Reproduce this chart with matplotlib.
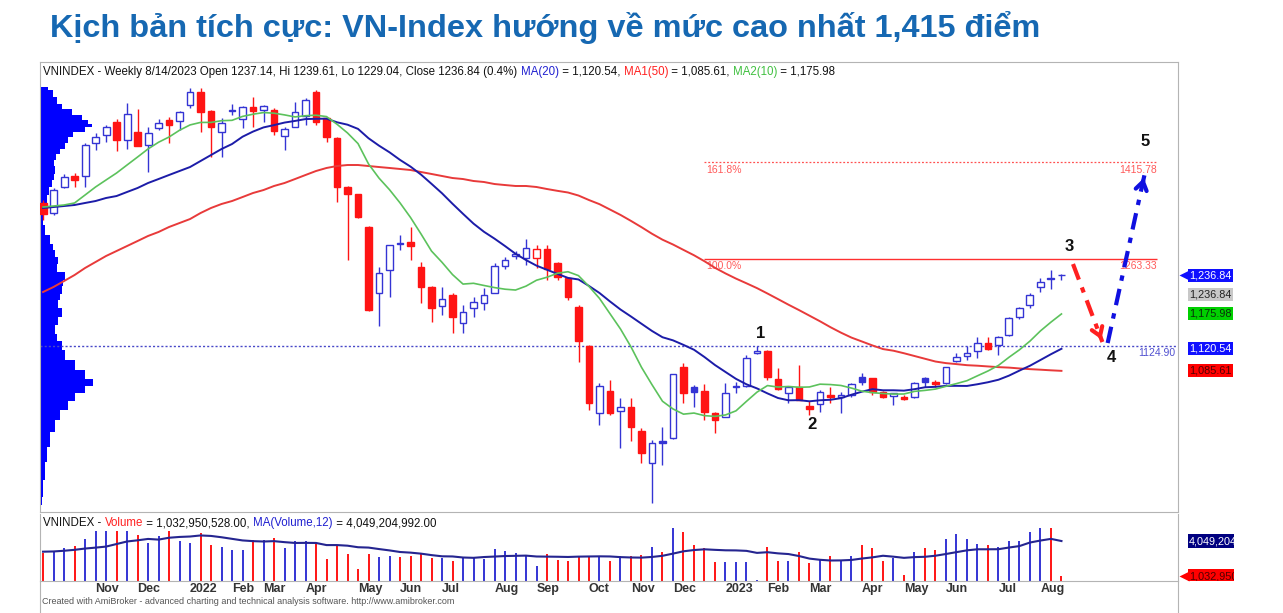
import numpy as np
import pandas as pd
import matplotlib
matplotlib.use("Agg")
import matplotlib.pyplot as plt
from matplotlib.lines import Line2D
from matplotlib.transforms import blended_transform_factory

plt.rcParams["font.family"] = ["Liberation Sans", "DejaVu Sans"]

# weekly bars dated by Friday; Tet week 2022 had no trading
dates = pd.date_range("2021-10-01", "2023-08-18", freq="W-FRI")
dates = dates[dates != pd.Timestamp("2022-02-04")]

opens = [1351, 1335, 1376, 1394, 1394, 1446, 1459, 1479, 1451, 1463,
         1443, 1470, 1482, 1481, 1506, 1527, 1497, 1463, 1496, 1484,
         1503, 1498, 1498, 1457, 1471, 1489, 1527, 1486, 1454, 1377,
         1365, 1313, 1209, 1245, 1288, 1289.5, 1250, 1218, 1188, 1205.6,
         1161.3, 1185, 1192.9, 1208.8, 1251.5, 1268, 1264, 1264, 1278.4, 1256.2,
         1232.5, 1186.6, 1124.9, 1018.9, 1053.7, 1022, 1028.4, 990.4, 939.8, 974,
         979.3, 1091.7, 1060, 1053.7, 1018.9, 1012.6, 1060, 1061.6, 1113.8, 1117,
         1072.7, 1050.5, 1060, 1030, 1033.1, 1047.4, 1044.2, 1047.4, 1075.8, 1074.3,
         1052.1, 1045.8, 1044.2, 1044.2, 1074.3, 1067.9, 1066.4, 1101.2, 1109.1, 1117,
         1129.6, 1126.5, 1142.3, 1170.8, 1189.8, 1218.3, 1232, 1237.14]
highs = [1356, 1375, 1397, 1398, 1446, 1462, 1475, 1484, 1509, 1500,
         1471, 1484, 1487, 1496, 1533, 1533, 1498, 1486, 1508, 1505,
         1519, 1506, 1501, 1471, 1511, 1517, 1530, 1487, 1455, 1378,
         1366, 1315, 1250, 1285, 1300.5, 1313, 1257.8, 1220, 1218, 1208.8,
         1189.8, 1202.4, 1216.7, 1256, 1265.7, 1276, 1294.2, 1284.7, 1284.7, 1258,
         1234, 1190, 1126, 1066.4, 1071.1, 1042.6, 1042.6, 995, 976.2, 996.7,
         1081, 1098, 1063.2, 1064.8, 1020.5, 1066.4, 1067.9, 1110.7, 1124.9, 1118,
         1090.1, 1061.6, 1094.8, 1037.9, 1055, 1060, 1052, 1066.4, 1082.2, 1075,
         1053, 1051, 1047, 1067.9, 1075.8, 1071, 1092, 1113.8, 1124.9, 1139.1,
         1139.1, 1140, 1170, 1187, 1208.8, 1232.5, 1245.2, 1239.61]
lows = [1324, 1332, 1375, 1376, 1376, 1435, 1448, 1433, 1437, 1441,
        1400, 1467, 1446, 1467, 1501, 1463, 1424, 1424, 1490, 1470,
        1471, 1479, 1459, 1435, 1471, 1475, 1475, 1447, 1353, 1261,
        1327, 1180, 1156.5, 1202, 1276.8, 1261, 1192.9, 1162.9, 1174, 1145.5,
        1145.5, 1171, 1181.9, 1208, 1246.7, 1262, 1253, 1248, 1229.3, 1230,
        1197.7, 1099.6, 1023.6, 999.9, 1015.7, 963.5, 974.6, 939.8, 876.5, 936.6,
        978, 1034.7, 1028.4, 1007.8, 987.2, 1012, 1050.5, 1060, 1112, 1071.1,
        1055, 1034.7, 1039, 1015.7, 1020, 1034.7, 1018.9, 1044, 1063.2, 1047,
        1042, 1031.5, 1040, 1043, 1060, 1060, 1065, 1099.6, 1102.7, 1105.9,
        1119, 1110, 1141, 1167, 1185, 1210.3, 1215.1, 1229.04]
closes = [1334, 1372, 1392, 1388, 1443, 1455, 1471, 1451, 1492, 1441,
          1462, 1478, 1475, 1495, 1527, 1495, 1471, 1478, 1498, 1503,
          1497, 1504, 1465, 1468, 1495, 1514, 1479, 1456, 1377, 1365,
          1329, 1182, 1240.4, 1284.7, 1286.5, 1283.1, 1218.3, 1185, 1199.3, 1170.8,
          1178.7, 1194.5, 1205.6, 1251.5, 1260.9, 1270, 1280, 1278.4, 1246.7, 1234.1,
          1202.4, 1132.8, 1034.7, 1061.6, 1018.9, 1028.4, 996.7, 955.6, 971.4, 972,
          1080.6, 1050.5, 1052.1, 1020.5, 1007.8, 1050.5, 1062, 1105.9, 1117, 1075.8,
          1056.9, 1060, 1039.5, 1025.2, 1052.1, 1044.2, 1047.4, 1064.8, 1067.9, 1052.1,
          1044.2, 1050.5, 1041, 1066.4, 1067.9, 1064.8, 1091.7, 1107.5, 1113.8, 1129.6,
          1120.2, 1139.1, 1169.2, 1185, 1205.6, 1226.2, 1230.5, 1236.84]
# volume in billions of shares
volumes = [2.99, 3.18, 3.46, 3.62, 4.23, 4.91, 4.91, 4.91, 4.91, 4.55,
           3.90, 4.50, 4.91, 4.01, 3.90, 4.72, 3.73, 3.54, 3.27, 3.27,
           4.17, 4.17, 4.28, 3.46, 4.09, 4.09, 3.81, 2.52, 3.73, 2.91,
           1.67, 2.91, 2.64, 2.77, 2.64, 2.80, 3.04, 2.58, 2.58, 2.36,
           2.64, 2.58, 2.49, 3.40, 3.18, 2.99, 2.85, 1.89, 2.91, 2.44,
           2.36, 2.72, 2.80, 2.72, 2.36, 2.72, 2.80, 2.85, 3.54, 3.08,
           5.18, 4.83, 3.67, 3.46, 2.25, 2.25, 2.25, 2.25, 0.71, 3.54,
           2.36, 2.36, 3.13, 2.17, 2.44, 2.72, 2.36, 2.72, 3.73, 3.46,
           2.36, 2.58, 1.15, 3.13, 3.46, 3.27, 4.23, 4.64, 4.23, 3.81,
           3.73, 3.54, 4.09, 4.09, 4.83, 5.18, 5.18, 1.033]

# moving averages before enough bars are on screen
ma10_head = [1344.8, 1346.4, 1348, 1351.2, 1363.8, 1376.5, 1387.6, 1398.6, 1411.3]
ma20_head = [1343.3, 1344.8, 1346.4, 1348, 1351.2, 1354.3, 1359.1, 1362.2, 1368.6, 1374.9,
             1382.8, 1389.1, 1395.5, 1401.8, 1408.1, 1417.6, 1427.1, 1436.6, 1444.5]
ma50_head = [1210.3, 1218.3, 1227.7, 1237.2, 1248.3, 1257.8, 1267.3, 1275.2, 1283.1, 1291,
             1299, 1305.3, 1313.2, 1319.5, 1325.8, 1335.3, 1343.3, 1349.6, 1354.3, 1360.6,
             1367, 1371.7, 1378.1, 1382.8, 1389.1, 1395.5, 1401.8, 1406.6, 1409.7, 1411.3,
             1411.3, 1409.7, 1408.1, 1406.6, 1405, 1403.4, 1400.2, 1397.1, 1393.9, 1390.7,
             1389.1, 1386, 1384.4, 1381.2, 1379.6, 1378.1, 1378.1, 1376.5, 1373.3]
volma_head = [3.13, 3.15, 3.21, 3.29, 3.40, 3.48, 3.57, 3.79, 4.01, 4.11, 4.23]

# volume-at-price profile on the left edge
profile_price = [1534.7, 1525.2, 1514.1, 1503.1, 1495.2, 1487.2, 1479.3, 1474.6, 1466.7, 1458.8,
                 1450.9, 1439.8, 1431.9, 1424, 1414.5, 1403.4, 1392.3, 1382.8, 1371.7, 1355.9,
                 1344.8, 1324.3, 1308.4, 1292.6, 1281.5, 1272.1, 1260.9, 1249.9, 1234.1, 1224.6,
                 1213.5, 1202.4, 1192.9, 1177.1, 1166, 1150.2, 1139.1, 1126.5, 1110.7, 1094.8,
                 1079, 1066.4, 1055.3, 1044.2, 1031.5, 1015.7, 999.9, 976.2, 952.4, 928.7,
                 897.1, 873.3]
profile_vol = [8, 13, 17, 22, 32, 42, 48, 52, 45, 33, 28, 25, 20, 16, 14, 15, 14, 12, 9, 7,
               5, 3, 5, 10, 13, 15, 18, 17, 25, 23, 22, 20, 18, 22, 18, 15, 17, 22, 25, 35,
               45, 53, 45, 35, 28, 20, 15, 10, 7, 5, 3, 2]

month_labels = ["Nov", "Dec", "2022", "Feb", "Mar", "Apr", "May", "Jun", "Jul", "Aug", "Sep",
                "Oct", "Nov", "Dec", "2023", "Feb", "Mar", "Apr", "May", "Jun", "Jul", "Aug"]

fib_levels = [1263.33, 1415.78]
fib_names = ["100.0%", "161.8%"]
support = 1124.90

# scenario path 3 -> 4 -> 5
wave_names = ["1", "2", "3", "4", "5"]
wave_x = [68.3, 73.2, 97.7, 101.8, 105.0]
wave_y = [1145, 1000, 1283, 1106, 1448]
drop_path = ([98.1, 100.9], [1254.6, 1131.2])
rise_path = ([101.4, 104.9], [1129.6, 1395])

BLUE = "#3434d4"
RED = "#ff1414"
W, H = 1283, 613


def box(x0, y0, x1, y1):
    return [x0 / W, 1 - y1 / H, (x1 - x0) / W, (y1 - y0) / H]


def chain(axis, x, y, parts, size):
    t = axis.text(x, y, parts[0][0], color=parts[0][1], fontsize=size,
                  transform=axis.transAxes, va="center", ha="left")
    for s, col in parts[1:]:
        t = axis.annotate(s, xy=(1, 0), xycoords=t, va="bottom", ha="left",
                          color=col, fontsize=size)
    return t


fig = plt.figure(figsize=(W / 100, H / 100), dpi=100)
ax = fig.add_axes(box(40, 62, 1178, 512))
axv = fig.add_axes(box(40, 514, 1178, 581))
axl = fig.add_axes(box(1178, 62, 1234, 512))
axvl = fig.add_axes(box(1178, 514, 1234, 581))

x = np.arange(len(closes))
o, hi, lo, c = (np.array(a, dtype=float) for a in (opens, highs, lows, closes))
prev = np.r_[o[0], c[:-1]]
colors = np.where(c >= prev, BLUE, RED)
face = np.where(c >= o, "white", colors)

xlim = (-0.29, 108.1)
ylim = (862.2, 1574.3)
vlim = (0.602, 6.38)

# volume profile
ax.fill_betweenx(profile_price, 0, np.array(profile_vol) / 1138,
                 step="mid", color="#0000ff", lw=0,
                 transform=blended_transform_factory(ax.transAxes, ax.transData), zorder=1)

# candles
ax.vlines(x, lo, hi, colors=colors, lw=1, zorder=3)
ax.bar(x, np.maximum(np.abs(c - o), 0.9), bottom=np.minimum(o, c), width=0.66,
       color=face, edgecolor=colors, lw=1, zorder=4)

cs = pd.Series(c)
ma10 = cs.rolling(10).mean().to_numpy()
ma10[:9] = ma10_head
ma20 = cs.rolling(20).mean().to_numpy()
ma20[:19] = ma20_head
ma50 = cs.rolling(50).mean().to_numpy()
ma50[:49] = ma50_head
ax.plot(x, ma50, color="#e83a3a", lw=1.4, zorder=5)
ax.plot(x, ma20, color="#1c1ca8", lw=1.4, zorder=5)
ax.plot(x, ma10, color="#5cc25c", lw=1.2, zorder=5)

# fibonacci levels and support
fib_x0, fib_x1 = 63.0, 106.1
ax.hlines(fib_levels[0], fib_x0, fib_x1, color="#ff3030", lw=1, zorder=2)
ax.hlines(fib_levels[1], fib_x0, fib_x1, color="#ff5050", lw=0.9, ls=(0, (1.5, 1.5)), zorder=2)
for lvl, name in zip(fib_levels, fib_names):
    ax.text(fib_x0 + 0.2, lvl - 4, name, color="#ff5a5a", fontsize=7.5, va="top", ha="left")
    ax.text(fib_x1, lvl - 4, f"{lvl:.2f}", color="#ff5a5a", fontsize=7.5, va="top", ha="right")
ax.axhline(support, color="#4848c8", lw=1, ls=(0, (1.5, 1.5)), zorder=2)
ax.text(0.998, support - 3.5, f"{support:.2f}", color="#5050d0", fontsize=7.5, va="top",
        ha="right", transform=blended_transform_factory(ax.transAxes, ax.transData))

# scenario arrows
ax.plot(*drop_path, color="#ff2020", lw=3, ls=(0, (4, 2, 1.3, 2)), zorder=6)
ax.annotate("", xy=(drop_path[0][1], drop_path[1][1]),
            xytext=(drop_path[0][1] - 0.35, drop_path[1][1] + 15),
            arrowprops=dict(arrowstyle="->,head_length=0.6,head_width=0.4", color="#ff2020", lw=3))
ax.plot(*rise_path, color="#1010e0", lw=3, ls=(0, (4, 2, 1.3, 2)), zorder=6)
ax.annotate("", xy=(rise_path[0][1], rise_path[1][1]),
            xytext=(rise_path[0][1] - 0.2, rise_path[1][1] - 15),
            arrowprops=dict(arrowstyle="->,head_length=0.6,head_width=0.4", color="#1010e0", lw=3))
for name, wx, wy in zip(wave_names, wave_x, wave_y):
    ax.text(wx, wy, name, fontsize=12, fontweight="bold", color="#111111", ha="center", va="center")

ax.set_xlim(*xlim)
ax.set_ylim(*ylim)
ax.set_xticks([])
ax.set_yticks([])
for sp in ax.spines.values():
    sp.set_color("#b4b4b4")
    sp.set_linewidth(0.8)

chain(ax, 0.003, 0.978, [
    ("VNINDEX - Weekly 8/14/2023 Open 1237.14, Hi 1239.61, Lo 1229.04, Close 1236.84 (0.4%) ", "#111111"),
    ("MA(20)", "#2020d0"), (" = 1,120.54, ", "#111111"),
    ("MA1(50)", "#ff2020"), (" = 1,085.61, ", "#111111"),
    ("MA2(10)", "#40c040"), (" = 1,175.98", "#111111")], 8.3)

# volume pane
v = pd.Series(volumes)
vcol = np.where(c >= o, BLUE, RED)
axv.vlines(x, vlim[0], v, colors=vcol, lw=1.4)
vma = v.rolling(12).mean().to_numpy()
vma[:11] = volma_head
axv.plot(x, vma, color="#252590", lw=1.5)
axv.set_xlim(*xlim)
axv.set_ylim(*vlim)
axv.set_yticks([])
month_first = pd.Series(dates.month).ne(pd.Series(dates.month).shift()).to_numpy()
month_first[0] = False
axv.set_xticks(x[month_first])
axv.set_xticklabels(month_labels, fontsize=9, fontweight="bold", color="#333333", ha="left")
axv.tick_params(axis="x", length=0, pad=1.5)
axv.spines["top"].set_visible(False)
for sp in ("left", "right", "bottom"):
    axv.spines[sp].set_color("#b4b4b4")
    axv.spines[sp].set_linewidth(0.8)
chain(axv, 0.003, 0.86, [
    ("VNINDEX - ", "#111111"), ("Volume", "#ff2020"),
    (" = 1,032,950,528.00, ", "#111111"), ("MA(Volume,12)", "#2020d0"),
    (" = 4,049,204,992.00", "#111111")], 8.3)

# right-hand value tags
price_tags = [(1236.84, 0, "#1010ff", "white", True), (1236.84, -14, "#c8c8c8", "#222222", False),
              (1175.98, 0, "#00d000", "#0a300a", False), (1120.54, 0, "#1010ff", "white", False),
              (1085.61, 0, "#ff0000", "#500000", False)]
vol_tags = [(4.049, "4,049,204,992", "#000080", "white", False),
            (1.033, "1,032,950,528", "#ff0000", "#500000", True)]
axl.set_ylim(*ylim)
axvl.set_ylim(*vlim)
for a in (axl, axvl):
    a.set_xlim(0, 1)
    a.axis("off")
for val, off, bg, fg, arrow in price_tags:
    axl.annotate(f"{val:,.2f}", xy=(0.2, val), xytext=(0, off), textcoords="offset points",
                 fontsize=7.8, color=fg, va="center", ha="left", clip_on=True,
                 bbox=dict(boxstyle="square,pad=0.15", fc=bg, ec="none"))
    if arrow:
        axl.plot(0.1, val, marker="<", ms=7, color=bg, mec="none", clip_on=False)
for val, txt, bg, fg, arrow in vol_tags:
    axvl.text(0.2, val, txt, fontsize=7.8, color=fg, va="center", ha="left", clip_on=True,
              bbox=dict(boxstyle="square,pad=0.15", fc=bg, ec="none"))
    if arrow:
        axvl.plot(0.1, val, marker="<", ms=7, color=bg, mec="none", clip_on=False)

# outer frame continuation and footer
for xp in (40, 1178):
    fig.add_artist(Line2D([xp / W] * 2, [1 - 581 / H, 0], color="#b4b4b4", lw=0.8))
fig.text(42 / W, 1 - 602 / H, "Created with AmiBroker - advanced charting and technical analysis "
         "software. http://www.amibroker.com", fontsize=6.5, color="#555555", va="center")

fig.text(50 / W, 1 - 28 / H, "Kịch bản tích cực: VN-Index hướng về mức cao nhất 1,415 điểm",
         fontsize=23.4, fontweight="bold", color="#1668b2", va="center", ha="left")

fig.savefig("out.png", dpi=100)
